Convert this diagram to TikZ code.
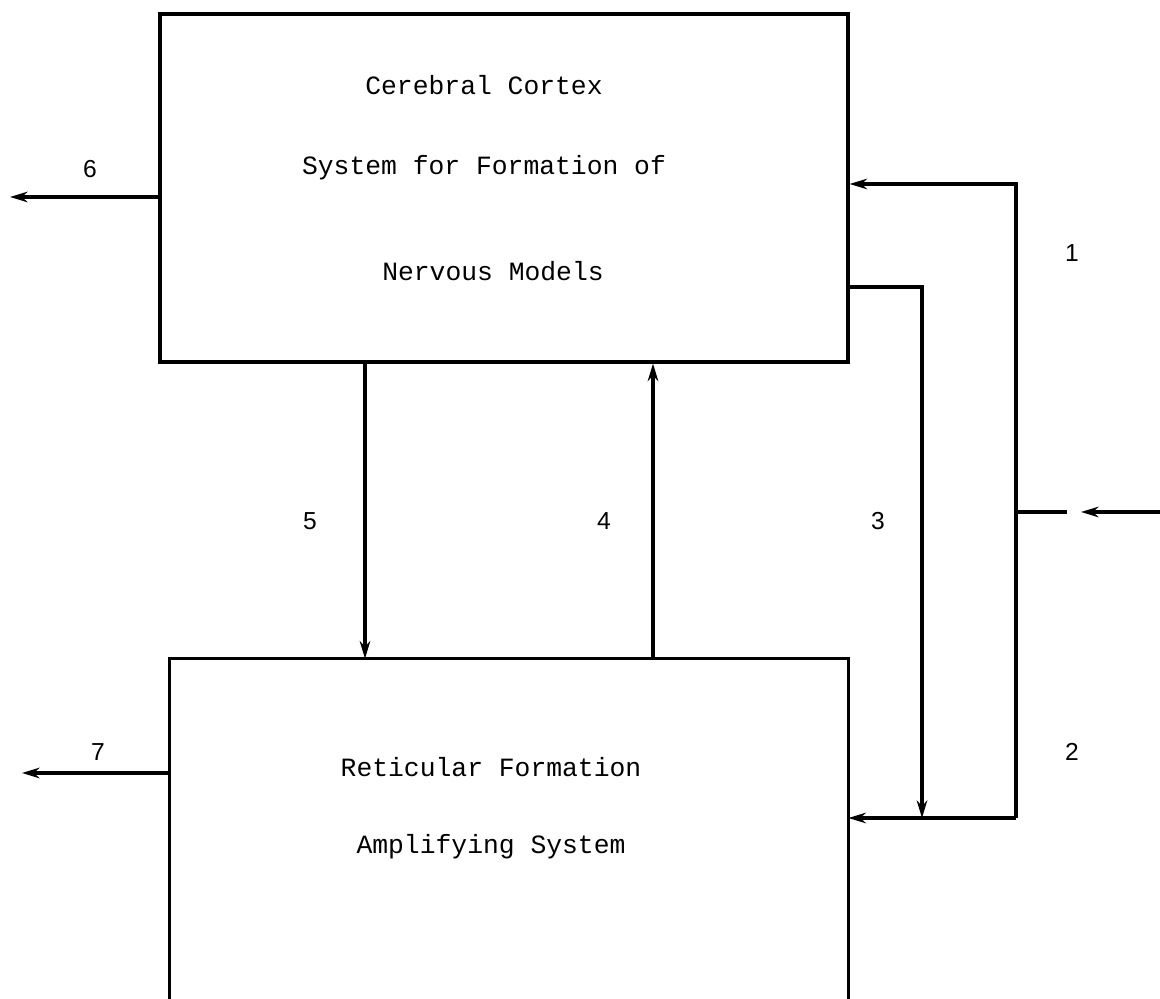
\documentclass[tikz,border=0pt]{standalone}
\usepackage{fontspec}
\setmainfont{Liberation Mono}
\newfontfamily\digitfont{Liberation Sans}
\usetikzlibrary{arrows.meta}
\tikzset{
  flow/.style={line width=1.8pt,-{Stealth[length=10pt,width=6pt]}},
  wire/.style={line width=1.8pt},
  num/.style={font=\digitfont\fontsize{14}{16}\selectfont},
  txt/.style={font=\fontsize{15}{17}\selectfont,anchor=base},
}
\begin{document}
\begin{tikzpicture}
  \useasboundingbox (0,0) rectangle (23.2,19.98);
  % Boxes
  \node[draw,line width=1.8pt,minimum width=13.76cm,minimum height=6.96cm,inner sep=0pt] (cortex) at (10.08,16.22) {};
  \node[minimum width=13.56cm,minimum height=6.8cm,inner sep=0pt] (retic) at (10.18,3.4) {};
  \draw[wire] (retic.south west) -- (retic.north west) -- (retic.north east) -- (retic.south east);
  % Box texts
  \node[txt] (t1) at (9.68,18.08) {Cerebral Cortex};
  \node[txt] (t2) at (9.68,16.48) {System for Formation of};
  \node[txt] (t3) at (9.86,14.36) {Nervous Models};
  \node[txt] (t4) at (9.82,4.44) {Reticular Formation};
  \node[txt] (t5) at (9.82,2.9) {Amplifying System};
  % Junctions on the right
  \coordinate (c1) at (20.32,16.3);
  \coordinate (c2) at (20.32,3.62);
  \coordinate (c3) at (18.44,14.24);
  \coordinate (c4) at (18.44,3.62);
  \coordinate (in1) at (20.32,9.74);
  \coordinate (in2) at (21.34,9.74);
  \coordinate (in3) at (21.62,9.74);
  \coordinate (in4) at (23.2,9.74);
  % Connectors
  \draw[flow] (c2) -- (c1) -- (c1 -| cortex.east);
  \draw[flow] (c2) -- (c2 -| retic.east);
  \draw[flow] (c3 -| cortex.east) -- (c3) -- (c4);
  \draw[wire] (in1) -- (in2);
  \draw[flow] (in4) -- (in3);
  \draw[flow] (cortex.south -| 7.3,0) -- (retic.north -| 7.3,0);
  \draw[flow] (retic.north -| 13.06,0) -- (cortex.south -| 13.06,0);
  \coordinate (o6) at (0.2,16.04);
  \coordinate (o7) at (0.44,4.52);
  \draw[flow] (o6 -| cortex.west) -- (o6);
  \draw[flow] (o7 -| retic.west) -- (o7);
  % Labels
  \node[num] (n1) at (21.44,14.92) {1};
  \node[num] (n2) at (21.44,4.94) {2};
  \node[num] (n3) at (17.56,9.56) {3};
  \node[num] (n4) at (12.08,9.56) {4};
  \node[num] (n5) at (6.2,9.56) {5};
  \node[num] (n6) at (1.8,16.6) {6};
  \node[num] (n7) at (1.96,4.94) {7};
\end{tikzpicture}
\end{document}
